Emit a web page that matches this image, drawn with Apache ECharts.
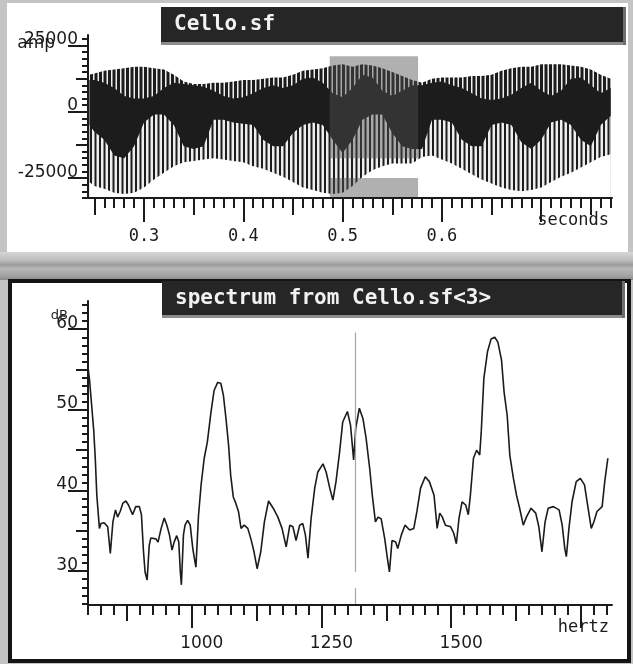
<!DOCTYPE html>
<html>
<head>
<meta charset="utf-8">
<title>Cello.sf</title>
<script src="https://cdn.jsdelivr.net/npm/echarts@6.0.0/dist/echarts.min.js"></script>
<style>
  html, body { margin: 0; padding: 0; background: #c4c4c4; }
  #chart { width: 633px; height: 664px; }
</style>
</head>
<body>
<div id="chart"></div>
<script>
// waveform envelopes every 10 ms (amp units)
const waveTime = [0.245, 0.25, 0.26, 0.27, 0.28, 0.29, 0.30, 0.31, 0.32, 0.33, 0.34, 0.35, 0.36, 0.37,
  0.38, 0.39, 0.40, 0.41, 0.42, 0.43, 0.44, 0.45, 0.46, 0.47, 0.48, 0.49, 0.50, 0.51, 0.52, 0.53, 0.54,
  0.55, 0.56, 0.57, 0.58, 0.59, 0.60, 0.61, 0.62, 0.63, 0.64, 0.65, 0.66, 0.67, 0.68, 0.69, 0.70, 0.71,
  0.72, 0.73, 0.74, 0.75, 0.76, 0.77];
// tops of the upper stripes
const waveTopOuter = [14000, 14500, 15500, 16000, 16500, 17000, 17000, 16500, 16000, 14000, 11500, 10500,
  10500, 11000, 11000, 11500, 12000, 12000, 12500, 13000, 13000, 14000, 15500, 16000, 16500, 17500, 18000,
  17000, 18000, 17500, 16500, 15000, 13500, 12000, 11000, 12500, 13000, 13000, 13000, 13500, 13500, 14000,
  15500, 16500, 17000, 17000, 18000, 18000, 18000, 17500, 17000, 16000, 14000, 12500];
// where the solid dark band starts
const waveTopInner = [12000, 12000, 11000, 9000, 6000, 5000, 5000, 6000, 9000, 11000, 10500, 10000, 9500,
  8000, 6000, 5000, 5500, 7000, 9000, 10000, 9000, 10000, 12500, 13000, 11000, 7000, 5500, 9000, 14000,
  13000, 8000, 6000, 8000, 10000, 10000, 11000, 11500, 10000, 9000, 7000, 5000, 4500, 5000, 6500, 9000,
  11000, 8000, 6000, 8000, 12500, 13000, 10000, 7000, 9000];
// where the solid band ends and the lower stripes start
const waveLowInner = [-5000, -7500, -10500, -16500, -17500, -13000, -4000, -1000, -1000, -5000, -13000,
  -14000, -13000, -3000, -3000, -4000, -4500, -5000, -10500, -13000, -13000, -8000, -5000, -4000, -5000,
  -10500, -15500, -10500, -3000, -1000, -1000, -8000, -13000, -14000, -14000, -3000, -3000, -4000, -10500,
  -13000, -13000, -5000, -4000, -5000, -11500, -14000, -10500, -4000, -3000, -5000, -10500, -13000, -5000, -1500];
// bottoms of the lower stripes
const waveLowOuter = [-26500, -28000, -29000, -30500, -31000, -30500, -28500, -25500, -23000, -20500, -19000,
  -18500, -18000, -17500, -18000, -18500, -19000, -20500, -21500, -23000, -24500, -26500, -28500, -29500,
  -30500, -31000, -30500, -28000, -24500, -22000, -20500, -19500, -19500, -19500, -17000, -16500, -18000,
  -19500, -21500, -23500, -25500, -27000, -28500, -29500, -30000, -29500, -28500, -26500, -24500, -23000,
  -21000, -19000, -17000, -16000];

// spectrum of the selection
const specHz = [800, 803, 807, 811, 814, 817, 822, 825, 831, 838, 843, 848, 853, 857, 862, 867, 873, 878,
  886, 892, 899, 903, 907, 910, 914, 918, 921, 931, 935, 941, 947, 952, 957, 962, 966, 971, 975, 978, 980,
  984, 987, 992, 997, 1002, 1005, 1008, 1013, 1018, 1024, 1030, 1037, 1043, 1050, 1056, 1061, 1066, 1071,
  1075, 1080, 1085, 1090, 1095, 1101, 1108, 1114, 1120, 1126, 1133, 1140, 1148, 1157, 1166, 1174, 1182,
  1189, 1195, 1201, 1208, 1214, 1219, 1224, 1230, 1237, 1243, 1253, 1259, 1266, 1272, 1278, 1285, 1291,
  1300, 1306, 1312, 1316, 1323, 1330, 1336, 1343, 1348, 1354, 1359, 1365, 1372, 1377, 1381, 1386, 1393,
  1397, 1404, 1411, 1420, 1428, 1434, 1441, 1450, 1458, 1467, 1473, 1478, 1483, 1489, 1499, 1505, 1510,
  1515, 1521, 1528, 1533, 1537, 1543, 1549, 1555, 1558, 1563, 1570, 1577, 1584, 1590, 1597, 1602, 1608,
  1613, 1620, 1626, 1632, 1639, 1645, 1654, 1663, 1669, 1675, 1681, 1687, 1697, 1708, 1714, 1719, 1722,
  1727, 1733, 1741, 1749, 1757, 1763, 1770, 1775, 1781, 1791, 1796, 1802];
const specDb = [55.3, 53.7, 50.6, 47.5, 44.0, 39.4, 35.3, 35.9, 36.0, 35.5, 32.2, 36.1, 37.6, 36.7, 37.4,
  38.4, 38.7, 38.2, 37.0, 38.0, 38.0, 37.0, 32.4, 29.9, 28.9, 33.2, 34.1, 34.0, 33.6, 35.3, 36.6, 35.7,
  34.5, 32.6, 33.6, 34.4, 33.6, 29.9, 28.3, 34.5, 35.7, 36.3, 35.7, 32.8, 31.6, 30.5, 36.9, 40.7, 44.0,
  46.0, 49.7, 52.4, 53.4, 53.3, 51.8, 48.9, 45.6, 41.9, 39.2, 38.4, 37.4, 35.3, 35.7, 35.3, 34.0, 32.4,
  30.3, 32.4, 36.1, 38.7, 37.8, 36.7, 35.3, 33.0, 35.7, 35.5, 33.8, 35.7, 35.9, 34.5, 31.6, 36.5, 40.3,
  42.3, 43.3, 42.3, 40.3, 38.8, 41.1, 44.8, 48.5, 49.8, 48.1, 43.8, 47.7, 50.2, 48.9, 46.5, 42.7, 39.4,
  36.1, 36.7, 36.5, 34.0, 31.6, 29.9, 33.8, 33.6, 32.8, 34.5, 35.7, 35.1, 35.3, 37.4, 40.3, 41.7, 41.1,
  39.4, 35.3, 37.2, 36.7, 35.7, 35.5, 34.7, 33.4, 36.5, 38.6, 38.2, 37.0, 39.4, 44.0, 45.0, 44.4, 47.3,
  53.9, 57.2, 58.8, 59.0, 58.4, 56.2, 52.2, 49.3, 44.4, 41.5, 39.4, 37.8, 35.7, 36.7, 37.8, 37.2, 35.5,
  32.4, 36.1, 37.8, 38.0, 37.6, 35.7, 32.8, 31.8, 35.3, 38.6, 41.1, 41.5, 40.7, 38.2, 35.3, 36.1, 37.4,
  38.0, 41.1, 44.0];

// ticks and labels
const secondsRange = [0.2436, 0.7713];
const secondsMajor = [0.3, 0.4, 0.5, 0.6, 0.7];
const secondsLabels = [0.3, 0.4, 0.5, 0.6];
const secondsMid = [0.25, 0.35, 0.45, 0.55, 0.65, 0.75];
const ampRange = [-32500, 29000];
const ampMajor = [-25000, 0, 25000];
const ampMid = [-12500, 12500];
const hertzRange = [800, 1810];
const hertzMajor = [1000, 1250, 1500, 1750];
const hertzLabels = [1000, 1250, 1500];
const hertzMid = [875, 1125, 1375, 1625];
const dbRange = [25.8, 63.5];
const dbMajor = [30, 40, 50, 60];
const dbMid = [35, 45, 55];

// grey selection box and the cursor in the spectrum
const selection = [0.487, 0.576];
const selectionUpper = [21000, -17500];
const selectionLower = [-25000, ampRange[0]];
const cursorHz = 1315;
const cursorSpans = [[59.6, 29.9], [27.9, 25.8]];

const steps = (a, b, d) => {
  const out = [];
  for (let i = 0; a + i * d <= b + 1e-9; i++) out.push(+(a + i * d).toFixed(4));
  return out;
};
const pairs = (xs, ys) => xs.map((x, i) => [x, ys[i]]);

const ink = '#1b1b1b';
const dark = '#1c1c1c';

// vertical stripe pattern, ~4.5px period like the plotted samples
function stripes(darkW, light) {
  const c = document.createElement('canvas');
  c.width = 9;
  c.height = 4;
  const g = c.getContext('2d');
  g.fillStyle = light;
  g.fillRect(0, 0, 9, 4);
  g.fillStyle = dark;
  g.fillRect(0, 0, darkW, 4);
  g.fillRect(4.5, 0, darkW, 4);
  return { image: c, repeat: 'repeat' };
}

// several overlaid axes per direction, so ticks can have different lengths
function axisSet(dir, gridIndex, range, ticks, label, name, nameStyle) {
  return ticks.map(([values, len], i) => {
    const last = i === ticks.length - 1;
    return {
      type: 'value',
      gridIndex,
      min: range[0],
      max: range[1],
      position: dir === 'x' ? 'bottom' : 'left',
      offset: 0,
      z: 5,
      silent: true,
      axisLine: { show: i === 0, onZero: false, lineStyle: { color: ink, width: 2 } },
      axisTick: { show: true, length: len, customValues: values, lineStyle: { color: ink, width: 2 } },
      axisLabel: last ? label : { show: false },
      splitLine: { show: false },
      name: last ? name : '',
      nameLocation: 'end',
      nameGap: 0,
      nameMoveOverlap: false,
      nameTextStyle: nameStyle
    };
  });
}

const labelFont = { fontFamily: 'DejaVu Sans', fontSize: 17, color: ink };
const monoFont = { fontFamily: 'DejaVu Sans Mono', fontSize: 17, color: ink };

const xAxis = [
  ...axisSet('x', 0, secondsRange,
    [[steps(0.25, 0.77, 0.01), 10], [secondsMid, 17], [secondsMajor, 24]],
    { ...monoFont, customValues: secondsLabels, margin: 30, formatter: v => v.toFixed(1) },
    'seconds', { ...monoFont, align: 'right', verticalAlign: 'top', padding: [14, 3, 0, 0] }),
  ...axisSet('x', 1, hertzRange,
    [[steps(800, 1800, 25), 10], [hertzMid, 16], [hertzMajor, 23]],
    { ...labelFont, customValues: hertzLabels, margin: 30, padding: [0, 0, 0, 20], formatter: v => String(v) },
    'hertz', { ...monoFont, align: 'right', verticalAlign: 'top', padding: [14, 3, 0, 0] })
];

const yLabel = values => ({
  ...labelFont, customValues: values, margin: 10, verticalAlign: 'bottom', lineHeight: 12,
  formatter: v => String(v)
});

const yAxis = [
  ...axisSet('y', 0, ampRange,
    [[steps(-32500, 27500, 2500), 6], [ampMid, 12], [ampMajor, 20]],
    yLabel(ampMajor),
    'amp', { ...labelFont, align: 'right', verticalAlign: 'top', padding: [0, 33, 0, 0] }),
  ...axisSet('y', 1, dbRange,
    [[steps(26, 63, 1), 6], [dbMid, 12], [dbMajor, 20]],
    yLabel(dbMajor),
    'dB', { ...labelFont, fontSize: 13, align: 'right', verticalAlign: 'top', padding: [8, 20, 0, 0] })
];

// each layer fills from its envelope down to the axis floor; later layers cover earlier ones
const waveLayer = (name, values, fill) => ({
  type: 'line',
  name,
  xAxisIndex: 0,
  yAxisIndex: 0,
  data: pairs(waveTime, values),
  symbol: 'none',
  showSymbol: false,
  silent: true,
  z: 2,
  lineStyle: { opacity: 0 },
  areaStyle: { color: fill, opacity: 1, origin: 'start' }
});

const titleBar = (x, y, w, h, text) => ({
  type: 'group',
  children: [
    { type: 'rect', z: 100, shape: { x, y, width: w, height: h }, style: { fill: '#262626' } },
    { type: 'rect', z: 100, shape: { x, y: y + h - 3, width: w, height: 3 }, style: { fill: '#8c8c8c' } },
    { type: 'rect', z: 100, shape: { x: x + w - 3, y, width: 3, height: h }, style: { fill: '#6e6e6e' } },
    {
      type: 'text', z: 101, x: x + 13, y: y + h / 2 - 1,
      style: { text, fill: '#f2f2f2', font: 'bold 21px "DejaVu Sans Mono"', verticalAlign: 'middle' }
    }
  ]
});

const chart = echarts.init(document.getElementById('chart'));
chart.setOption({
  animation: false,
  backgroundColor: '#c4c4c4',
  grid: [
    { left: 88, right: 21, top: 35, height: 163 },
    { left: 88, right: 21, top: 301, height: 304 }
  ],
  xAxis,
  yAxis,
  graphic: [
    { type: 'rect', z: -10, shape: { x: 7, y: 3, width: 621, height: 249 }, style: { fill: '#ffffff' } },
    {
      type: 'rect', z: -10, shape: { x: 0, y: 252, width: 633, height: 28 },
      style: {
        fill: new echarts.graphic.LinearGradient(0, 0, 0, 1, [
          { offset: 0, color: '#d6d6d6' },
          { offset: 0.3, color: '#bdbdbd' },
          { offset: 0.45, color: '#9c9c9c' },
          { offset: 0.6, color: '#b8b8b8' },
          { offset: 0.85, color: '#a2a2a2' },
          { offset: 1, color: '#8a8a8a' }
        ])
      }
    },
    {
      type: 'rect', z: -10, shape: { x: 10, y: 281, width: 619, height: 380 },
      style: { fill: '#ffffff', stroke: '#141414', lineWidth: 4 }
    },
    titleBar(161, 7, 465, 38, 'Cello.sf'),
    titleBar(162, 281, 463, 37, 'spectrum from Cello.sf<3>')
  ],
  series: [
    waveLayer('upper', waveTopOuter, stripes(3, '#eeeeee')),
    waveLayer('core', waveTopInner, dark),
    waveLayer('lower', waveLowInner, stripes(2, '#eeeeee')),
    waveLayer('floor', waveLowOuter, '#ffffff'),
    {
      type: 'line',
      name: 'selection',
      xAxisIndex: 0,
      yAxisIndex: 0,
      data: [],
      z: 4,
      silent: true,
      markArea: {
        z: 4,
        silent: true,
        itemStyle: { color: 'rgba(80,80,80,0.45)' },
        data: [
          [{ coord: [selection[0], selectionUpper[0]] }, { coord: [selection[1], selectionUpper[1]] }],
          [{ coord: [selection[0], selectionLower[0]] }, { coord: [selection[1], selectionLower[1]] }]
        ]
      }
    },
    {
      type: 'line',
      name: 'spectrum',
      xAxisIndex: 3,
      yAxisIndex: 3,
      data: pairs(specHz, specDb),
      symbol: 'none',
      showSymbol: false,
      silent: true,
      lineStyle: { color: ink, width: 1.6 },
      markLine: {
        silent: true,
        symbol: 'none',
        label: { show: false },
        lineStyle: { color: '#a6a6a6', width: 1.2, type: 'solid' },
        data: cursorSpans.map(([a, b]) => [{ coord: [cursorHz, a] }, { coord: [cursorHz, b] }])
      }
    }
  ]
});
</script>
</body>
</html>
